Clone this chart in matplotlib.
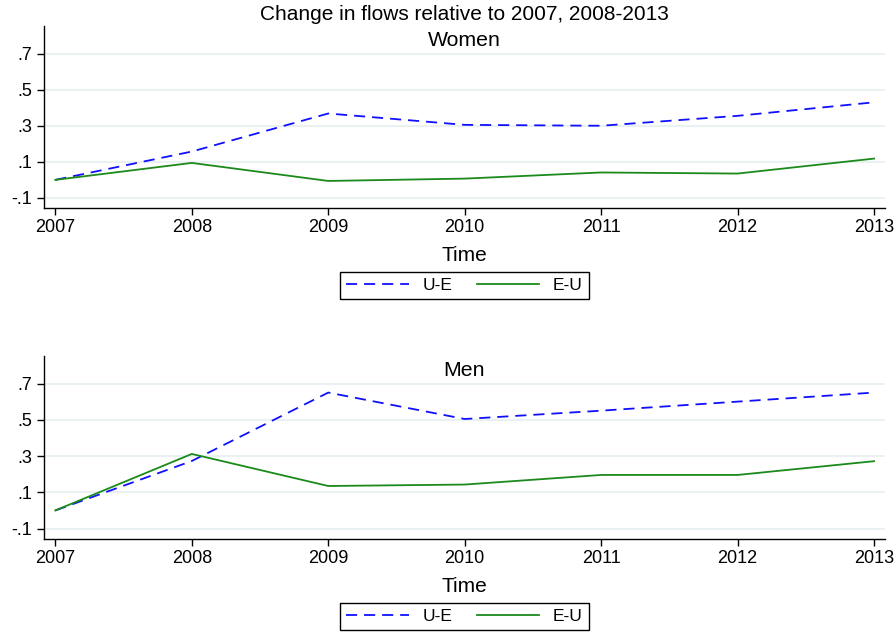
import numpy as np
import matplotlib
matplotlib.use('Agg')
import matplotlib.pyplot as plt

plt.rcParams['font.family'] = ['Liberation Sans', 'DejaVu Sans']
plt.rcParams['lines.scale_dashes'] = False

years = [2007, 2008, 2009, 2010, 2011, 2012, 2013]
yticks = [-0.1, 0.1, 0.3, 0.5, 0.7]
ytick_labels = ['-.1', '.1', '.3', '.5', '.7']

# women, change relative to 2007
women_ue = [0.0, 0.157, 0.368, 0.305, 0.300, 0.355, 0.430]
women_eu = [0.0, 0.094, -0.006, 0.007, 0.041, 0.035, 0.118]
# men
men_ue = [0.0, 0.273, 0.651, 0.505, 0.551, 0.601, 0.651]
men_eu = [0.0, 0.312, 0.135, 0.143, 0.196, 0.196, 0.272]

blue = '#1010ff'
green = '#1b8a1b'
grid_col = '#eaf1f3'

fig = plt.figure(figsize=(8.96, 6.33), dpi=100)
ax_w = fig.add_axes([0.0491, 0.6714, 0.9386, 0.2875])
ax_m = fig.add_axes([0.0491, 0.1490, 0.9386, 0.2886])


def draw_panel(ax, ue, eu, label):
    ax.plot(years, ue, color=blue, lw=1.3, dashes=(8, 5), label='U-E')
    ax.plot(years, eu, color=green, lw=1.3, label='E-U')
    ax.set_xlim(2006.917, 2013.08)
    ax.set_ylim(-0.156, 0.853)
    ax.set_yticks(yticks)
    ax.set_yticklabels(ytick_labels)
    ax.set_xticks(years)
    ax.grid(axis='y', color=grid_col, lw=1.5)
    ax.set_axisbelow(True)
    for side in ['top', 'right']:
        ax.spines[side].set_visible(False)
    ax.spines['left'].set_linewidth(1.0)
    ax.spines['bottom'].set_linewidth(1.0)
    ax.tick_params(axis='both', labelsize=13, length=5, width=1.0, direction='out')
    ax.tick_params(axis='x', pad=3)
    ax.set_xlabel('Time', fontsize=15, labelpad=7)
    ax.text(0.5, 0.923, label, transform=ax.transAxes, ha='center', va='center', fontsize=15.3)
    ax.legend(loc='upper center', bbox_to_anchor=(0.5, -0.35), ncol=2, fontsize=12.5,
              frameon=True, fancybox=False, edgecolor='black', framealpha=1,
              handlelength=3.6, columnspacing=1.4, borderpad=0.35, handletextpad=0.8,
              borderaxespad=0)


draw_panel(ax_w, women_ue, women_eu, 'Women')
draw_panel(ax_m, men_ue, men_eu, 'Men')

fig.text(0.518, 1 - 15 / 633, 'Change in flows relative to 2007, 2008-2013',
         ha='center', va='center', fontsize=15)

fig.savefig('out.png', dpi=100)
